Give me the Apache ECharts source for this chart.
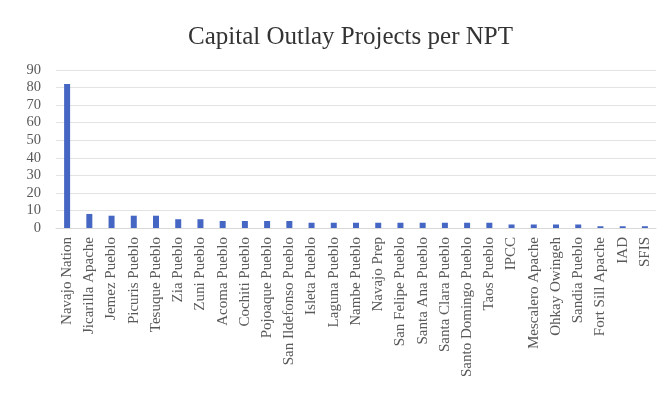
<!DOCTYPE html>
<html><head><meta charset="utf-8">
<script src="https://cdn.jsdelivr.net/npm/echarts@6/dist/echarts.min.js"></script>
<style>html,body{margin:0;padding:0;background:#fff}#c{width:660px;height:400px}</style>
</head><body><div id="c"></div>
<script>
var categories = ["Navajo Nation","Jicarilla Apache","Jemez Pueblo","Picuris Pueblo","Tesuque Pueblo","Zia Pueblo","Zuni Pueblo","Acoma Pueblo","Cochiti Pueblo","Pojoaque Pueblo","San Ildefonso Pueblo","Isleta Pueblo","Laguna Pueblo","Nambe Pueblo","Navajo Prep","San Felipe Pueblo","Santa Ana Pueblo","Santa Clara Pueblo","Santo Domingo Pueblo","Taos Pueblo","IPCC","Mescalero Apache","Ohkay Owingeh","Sandia Pueblo","Fort Sill Apache","IAD","SFIS"];
var projects = [82,8,7,7,7,5,5,4,4,4,4,3,3,3,3,3,3,3,3,3,2,2,2,2,1,1,1];
var yTicks = [0,10,20,30,40,50,60,70,80,90];
var chart = echarts.init(document.getElementById('c'));
var font = "'Liberation Serif', serif";
chart.setOption({
  backgroundColor:'#fff',
  animation:false,
  title:{text:'Capital Outlay Projects per NPT',left:183,top:20,textStyle:{fontFamily:font,fontWeight:'normal',fontSize:25,color:'#333'}},
  grid:{left:56,right:4,top:70,bottom:172},
  xAxis:{type:'category',data:categories,axisTick:{show:false},axisLine:{lineStyle:{color:'#d9d9d9'}},
    axisLabel:{rotate:90,interval:0,fontFamily:font,fontSize:15,color:'#595959',margin:9}},
  yAxis:{type:'value',min:yTicks[0],max:yTicks[yTicks.length-1],interval:10,
    axisLabel:{fontFamily:font,fontSize:14.5,color:'#595959',margin:15},
    splitLine:{lineStyle:{color:'#e3e3e3'}},axisLine:{show:false},axisTick:{show:false}},
  series:[{type:'bar',data:projects,barWidth:6,itemStyle:{color:'#4666c4'}}]
});
</script></body></html>
